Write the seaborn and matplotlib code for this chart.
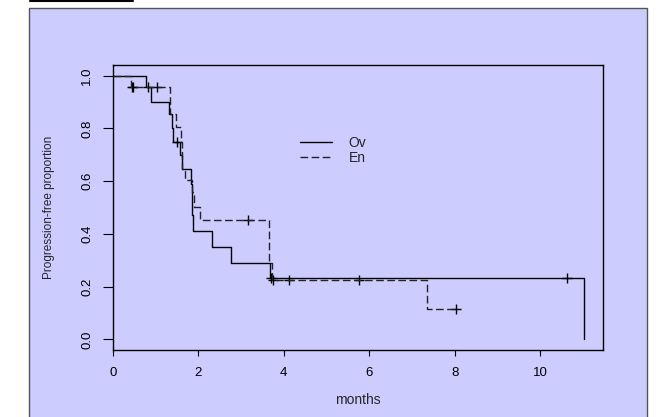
import numpy as np
import pandas as pd
import seaborn as sns
import matplotlib
import matplotlib.pyplot as plt
from matplotlib.patches import Rectangle
from matplotlib.lines import Line2D

matplotlib.use('Agg')

# Kaplan-Meier step curves (time in months, proportion)
ov_time = [0.0, 0.78, 0.90, 1.30, 1.37, 1.40, 1.58, 1.61, 1.82, 1.84, 1.86, 1.87, 2.31, 2.77, 3.67, 11.03]
ov_surv = [1.0, 0.955, 0.90, 0.855, 0.80, 0.75, 0.70, 0.645, 0.59, 0.53, 0.47, 0.41, 0.35, 0.29, 0.234, 0.0]
ov_censor = [0.82, 1.50, 3.69, 10.64]

en_time = [0.0, 0.41, 1.33, 1.47, 1.60, 1.62, 1.69, 1.85, 1.90, 2.03, 3.66, 3.73, 7.35, 8.03]
en_surv = [1.0, 0.955, 0.855, 0.806, 0.75, 0.645, 0.604, 0.56, 0.503, 0.453, 0.29, 0.225, 0.114, 0.114]
en_censor = [0.44, 0.47, 1.04, 3.17, 3.75, 4.13, 5.75, 8.03]

x_ticks = [0, 2, 4, 6, 8, 10]
y_ticks = [0.0, 0.2, 0.4, 0.6, 0.8, 1.0]


def surv_at(t, times, surv):
    # value of the step function at the censoring times
    idx = np.searchsorted(times, t, side='right') - 1
    return np.asarray(surv)[idx]


sns.set_style("ticks")
plt.rcParams['font.family'] = ['Liberation Sans', 'DejaVu Sans']

fig = plt.figure(figsize=(6.59, 4.17), dpi=100)
fig.patch.set_facecolor('white')

# blue panel behind the plot
W, H = 659, 417
panel = Rectangle((29 / W, -0.02), (647 - 29) / W, 1.02 - 8 / H,
                  transform=fig.transFigure, facecolor='#ccccff',
                  edgecolor='#555555', linewidth=1.0, zorder=-5)
fig.patches.append(panel)
fig.add_artist(Line2D([30 / W, 133 / W], [1 - 0.5 / H, 1 - 0.5 / H],
                      transform=fig.transFigure, color='black', lw=1.5, zorder=-5))

ax = fig.add_axes([113 / W, 1 - 350 / H, (603 - 113) / W, (350 - 65) / H])
ax.set_facecolor('none')
ax.set_zorder(1)

ov = pd.DataFrame({"time": ov_time, "surv": ov_surv})
en = pd.DataFrame({"time": en_time, "surv": en_surv})

sns.lineplot(data=ov, x="time", y="surv", drawstyle='steps-post', estimator=None,
             sort=False, color='black', linewidth=1.0, label='Ov', ax=ax)
sns.lineplot(data=en, x="time", y="surv", drawstyle='steps-post', estimator=None,
             sort=False, color='#222222', linewidth=1.0, linestyle='--', label='En', ax=ax)
ax.lines[1].set_dashes((5.5, 2.5))

sns.scatterplot(x=ov_censor, y=surv_at(ov_censor, ov_time, ov_surv), marker='+',
                s=45, color='black', linewidth=1.0, legend=False, ax=ax)
sns.scatterplot(x=en_censor, y=surv_at(en_censor, en_time, en_surv), marker='+',
                s=45, color='black', linewidth=1.0, legend=False, ax=ax)

ax.set_xlim(0, 11.03 * 1.04)
ax.set_ylim(-0.04, 1.04)
ax.set_xticks(x_ticks)
ax.set_xticklabels([str(v) for v in x_ticks])
ax.set_yticks(y_ticks)
ax.set_yticklabels(["%.1f" % v for v in y_ticks], rotation=90, va='center')

for sp in ax.spines.values():
    sp.set_visible(True)
    sp.set_color('black')
    sp.set_linewidth(1.0)

ax.tick_params(axis='x', length=4, width=0.8, pad=8, labelsize=9.5, colors='black')
ax.tick_params(axis='y', length=7.2, width=0.8, pad=7, labelsize=9.5, colors='black')

ax.set_xlabel("months", fontsize=10, labelpad=10.5)
ax.set_ylabel("Progression-free proportion", fontsize=8.5, labelpad=19)

ax.legend(loc='upper left', bbox_to_anchor=(300 / W, 1 - 136 / H),
          bbox_transform=fig.transFigure, frameon=False, fontsize=10,
          borderpad=0, borderaxespad=0, handlelength=2.3, handletextpad=1.2,
          labelspacing=0.05)

fig.savefig("out.png", dpi=100)
